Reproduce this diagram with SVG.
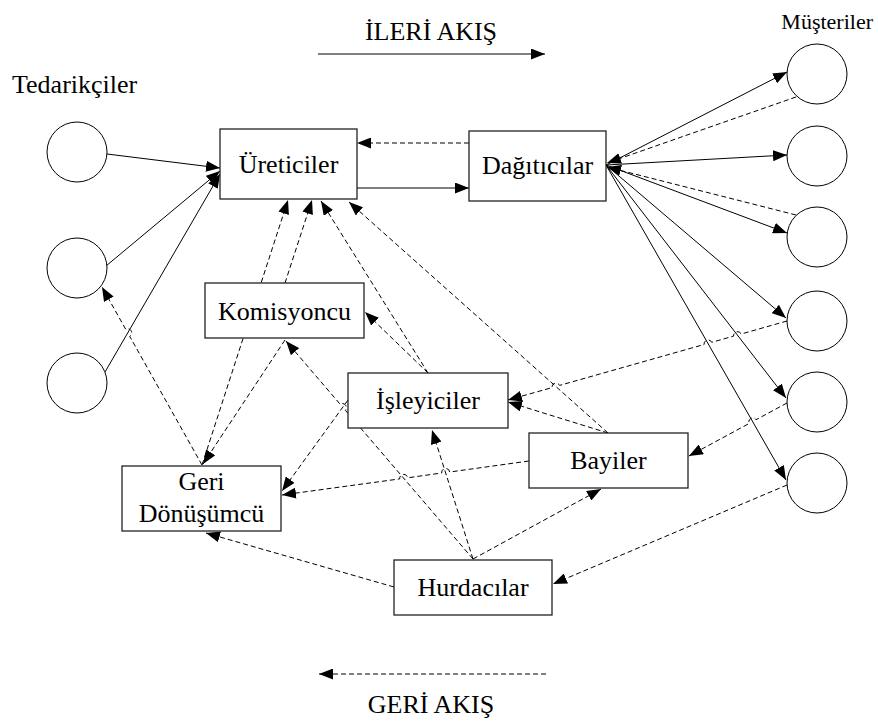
<svg xmlns="http://www.w3.org/2000/svg" width="878" height="725" viewBox="0 0 878 725">
  <style>
    .lbl { font-family: "Liberation Serif", "Times New Roman", serif; font-size: 26px; fill: #000; }
    .mid { text-anchor: middle; }
    .box { fill: #fff; stroke: #222; stroke-width: 1.3; }
    .node-c { fill: #fff; stroke: #000; stroke-width: 1; }
    .fwd { fill: none; stroke: #000; stroke-width: 1; marker-end: url(#arrow); }
    .rev { fill: none; stroke: #000; stroke-width: 1; stroke-dasharray: 5 3; marker-end: url(#arrow); }
  </style>
  <defs>
    <marker id="arrow" markerUnits="userSpaceOnUse" markerWidth="14" markerHeight="11" refX="14" refY="5.5" orient="auto">
      <path d="M0,0 L14,5.5 L0,11 z" fill="#000"/>
    </marker>
  </defs>
  <rect width="878" height="725" fill="#fff"/>

  <!-- flow legend -->
  <g id="legend">
    <text class="lbl mid" x="431" y="40">İLERİ AKIŞ</text>
    <path class="fwd" d="M318,54 L545,54"/>
    <path class="rev" d="M546,674 L319,674"/>
    <text class="lbl mid" x="431" y="713">GERİ AKIŞ</text>
  </g>

  <!-- connectors -->
  <g id="connectors">
    <!-- suppliers to manufacturers -->
    <path class="fwd" d="M107,154 L220,168"/>
    <path class="fwd" d="M106,266 L220,171"/>
    <path class="fwd" d="M105,372 L220,174"/>
    <!-- manufacturers to distributors -->
    <path class="fwd" d="M357,188 L469,188"/>
    <!-- distributors to customers -->
    <path class="fwd" d="M606,165 L787,72"/>
    <path class="fwd" d="M606,165 L787,155"/>
    <path class="fwd" d="M606,165 L787,233"/>
    <path class="fwd" d="M606,165 L786,318"/>
    <path class="fwd" d="M606,165 L786,398"/>
    <path class="fwd" d="M606,165 L786,480"/>

    <!-- reverse flows (small arcs hop over crossing lines) -->
    <path class="rev" d="M469,143 L357,143"/>
    <path class="rev" d="M796,97 L607,163"/>
    <path class="rev" d="M796,215 L607,167"/>
    <path class="rev" d="M787,321 L741.2,334 A4,4 0 0 0 733.6,336.1 L711.7,342.3 A4,4 0 0 0 704.1,344.5 L559.6,385.4 A4,4 0 0 0 552,387.6 L508,400"/>
    <path class="rev" d="M787,403 L756.1,419.7 A4,4 0 0 0 749.1,423.5 L689,456"/>
    <path class="rev" d="M787,485 L553,584"/>

    <path class="rev" d="M285,283 L312,200"/>
    <path class="rev" d="M202,465 L288,200"/>
    <path class="rev" d="M428,373 L321,201"/>
    <path class="rev" d="M428,373 L365,312"/>
    <path class="rev" d="M608,433 L349,202"/>
    <path class="rev" d="M608,433 L508,402"/>

    <path class="rev" d="M285,340 L203,464"/>
    <path class="rev" d="M473,559 L345.3,410.2 A4,4 0 0 0 340.1,404.2 L286,341"/>
    <path class="rev" d="M348,400 L282,491"/>
    <path class="rev" d="M529,461 L449.7,472 A4,4 0 0 0 441.7,473 L407.7,477.8 A4,4 0 0 0 399.7,478.9 L282,495"/>
    <path class="rev" d="M473,559 L432,430"/>
    <path class="rev" d="M473,559 L601,489"/>
    <path class="rev" d="M394,587 L206,533"/>
    <path class="rev" d="M202,465 L129.7,336.3 A4,4 0 0 0 125.7,329.3 L102,287"/>
  </g>

  <!-- suppliers -->
  <g id="suppliers">
    <text class="lbl" x="12" y="93">Tedarikçiler</text>
    <circle id="supplier-1" class="node-c" cx="77" cy="152" r="30"/>
    <circle id="supplier-2" class="node-c" cx="77" cy="268" r="30"/>
    <circle id="supplier-3" class="node-c" cx="77" cy="383" r="30"/>
  </g>

  <!-- customers -->
  <g id="customers">
    <text class="lbl" x="873" y="29" text-anchor="end" style="font-size:22px">Müşteriler</text>
    <circle id="customer-1" class="node-c" cx="817" cy="74" r="30"/>
    <circle id="customer-2" class="node-c" cx="817" cy="156" r="30"/>
    <circle id="customer-3" class="node-c" cx="817" cy="237" r="30"/>
    <circle id="customer-4" class="node-c" cx="817" cy="321" r="30"/>
    <circle id="customer-5" class="node-c" cx="817" cy="402" r="30"/>
    <circle id="customer-6" class="node-c" cx="817" cy="483" r="30"/>
  </g>

  <g id="ureticiler">
    <rect class="box" x="220" y="129" width="137" height="70"/>
    <text class="lbl mid" x="288.5" y="173">Üreticiler</text>
  </g>
  <g id="dagiticilar">
    <rect class="box" x="469" y="131" width="137" height="70"/>
    <text class="lbl mid" x="537.5" y="174">Dağıtıcılar</text>
  </g>
  <g id="komisyoncu">
    <rect class="box" x="205" y="283" width="159" height="55"/>
    <text class="lbl mid" x="284.5" y="320">Komisyoncu</text>
  </g>
  <g id="isleyiciler">
    <rect class="box" x="348" y="373" width="160" height="55"/>
    <text class="lbl mid" x="428" y="409">İşleyiciler</text>
  </g>
  <g id="geri-donusumcu">
    <rect class="box" x="122" y="466" width="159" height="65"/>
    <text class="lbl mid" x="201.5" y="490">Geri</text>
    <text class="lbl mid" x="201.5" y="522">Dönüşümcü</text>
  </g>
  <g id="bayiler">
    <rect class="box" x="529" y="433" width="159" height="55"/>
    <text class="lbl mid" x="608.5" y="469">Bayiler</text>
  </g>
  <g id="hurdacilar">
    <rect class="box" x="394" y="560" width="158" height="55"/>
    <text class="lbl mid" x="473" y="596">Hurdacılar</text>
  </g>
</svg>
